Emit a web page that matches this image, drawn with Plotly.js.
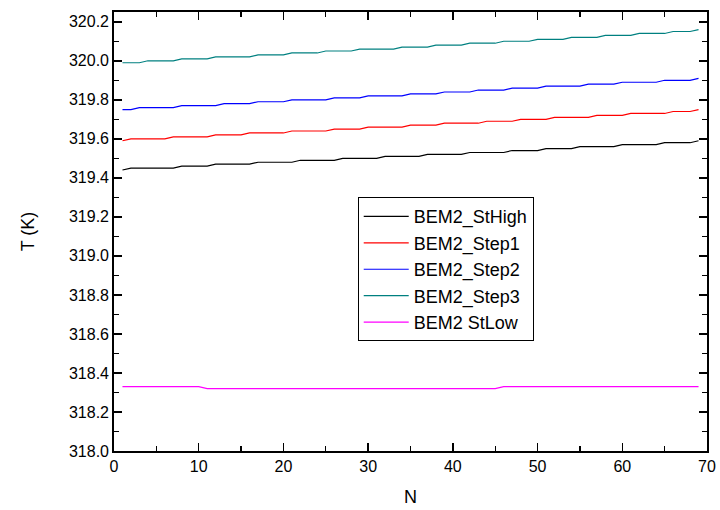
<!DOCTYPE html>
<html>
<head>
<meta charset="utf-8">
<script src="https://cdn.plot.ly/plotly-3.0.1.min.js"></script>
<style>html,body{margin:0;padding:0;background:#fff;}#chart{width:720px;height:510px;}</style>
</head>
<body>
<div id="chart"></div>
<script>
// Data
const seriesNames = ["BEM2_StHigh", "BEM2_Step1", "BEM2_Step2", "BEM2_Step3", "BEM2 StLow"];
const seriesColors = ["#000000", "#ff0000", "#0000ff", "#008080", "#ff00ff"];

// N values 1..69
const N = [1,2,3,4,5,6,7,8,9,10,11,12,13,14,15,16,17,18,19,20,21,22,23,24,25,26,27,28,29,30,
  31,32,33,34,35,36,37,38,39,40,41,42,43,44,45,46,47,48,49,50,51,52,53,54,55,56,57,58,59,60,
  61,62,63,64,65,66,67,68,69];

const stHigh = [319.44,
  319.45,319.45,319.45,319.45,319.45,319.45,
  319.46,319.46,319.46,319.46,
  319.47,319.47,319.47,319.47,319.47,
  319.48,319.48,319.48,319.48,319.48,
  319.49,319.49,319.49,319.49,319.49,
  319.50,319.50,319.50,319.50,319.50,
  319.51,319.51,319.51,319.51,319.51,
  319.52,319.52,319.52,319.52,319.52,
  319.53,319.53,319.53,319.53,319.53,
  319.54,319.54,319.54,319.54,
  319.55,319.55,319.55,319.55,
  319.56,319.56,319.56,319.56,319.56,
  319.57,319.57,319.57,319.57,319.57,
  319.58,319.58,319.58,319.58,
  319.59];

const step1 = [319.59,
  319.60,319.60,319.60,319.60,319.60,
  319.61,319.61,319.61,319.61,319.61,
  319.62,319.62,319.62,319.62,
  319.63,319.63,319.63,319.63,319.63,
  319.64,319.64,319.64,319.64,319.64,
  319.65,319.65,319.65,319.65,
  319.66,319.66,319.66,319.66,319.66,
  319.67,319.67,319.67,319.67,
  319.68,319.68,319.68,319.68,319.68,
  319.69,319.69,319.69,319.69,
  319.70,319.70,319.70,319.70,
  319.71,319.71,319.71,319.71,319.71,
  319.72,319.72,319.72,319.72,
  319.73,319.73,319.73,319.73,319.73,
  319.74,319.74,319.74,
  319.75];

const step2 = [319.75,319.75,
  319.76,319.76,319.76,319.76,319.76,
  319.77,319.77,319.77,319.77,319.77,
  319.78,319.78,319.78,319.78,
  319.79,319.79,319.79,319.79,
  319.80,319.80,319.80,319.80,319.80,
  319.81,319.81,319.81,319.81,
  319.82,319.82,319.82,319.82,319.82,
  319.83,319.83,319.83,319.83,
  319.84,319.84,319.84,319.84,
  319.85,319.85,319.85,319.85,
  319.86,319.86,319.86,319.86,
  319.87,319.87,319.87,319.87,319.87,
  319.88,319.88,319.88,319.88,
  319.89,319.89,319.89,319.89,319.89,
  319.90,319.90,319.90,319.90,
  319.91];

const step3 = [319.99,319.99,319.99,
  320.00,320.00,320.00,320.00,
  320.01,320.01,320.01,320.01,
  320.02,320.02,320.02,320.02,320.02,
  320.03,320.03,320.03,320.03,
  320.04,320.04,320.04,320.04,
  320.05,320.05,320.05,320.05,
  320.06,320.06,320.06,320.06,320.06,
  320.07,320.07,320.07,320.07,
  320.08,320.08,320.08,320.08,
  320.09,320.09,320.09,320.09,
  320.10,320.10,320.10,320.10,
  320.11,320.11,320.11,320.11,
  320.12,320.12,320.12,320.12,
  320.13,320.13,320.13,320.13,
  320.14,320.14,320.14,320.14,
  320.15,320.15,320.15,
  320.16];

const stLow = [318.33,318.33,318.33,318.33,318.33,318.33,318.33,318.33,318.33,318.33,
  318.32,318.32,318.32,318.32,318.32,318.32,318.32,318.32,318.32,318.32,
  318.32,318.32,318.32,318.32,318.32,318.32,318.32,318.32,318.32,318.32,
  318.32,318.32,318.32,318.32,318.32,318.32,318.32,318.32,318.32,318.32,
  318.32,318.32,318.32,318.32,318.32,
  318.33,318.33,318.33,318.33,318.33,318.33,318.33,318.33,318.33,318.33,
  318.33,318.33,318.33,318.33,318.33,318.33,318.33,318.33,318.33,318.33,
  318.33,318.33,318.33,318.33];

const seriesValues = [stHigh, step1, step2, step3, stLow];

const traces = seriesValues.map((vals, i) => ({
  x: N, y: vals, type: 'scatter', mode: 'lines', name: seriesNames[i],
  line: {color: seriesColors[i], width: 1.2}
}));

const fontFam = 'Arial, "Liberation Sans", sans-serif';
const layout = {
  width: 720, height: 510,
  margin: {l: 114, r: 13, t: 12, b: 59},
  paper_bgcolor: '#fff', plot_bgcolor: '#fff',
  font: {family: fontFam, size: 16, color: '#000'},
  showlegend: true,
  legend: {
    x: 0.411, y: 0.578, xanchor: 'left', yanchor: 'top',
    bordercolor: '#000', borderwidth: 1, bgcolor: '#fff',
    font: {family: fontFam, size: 18, color: '#000'},
    itemwidth: 45,
    tracegroupgap: 0
  },
  xaxis: {
    range: [0, 70], dtick: 10, tick0: 0,
    showgrid: false, zeroline: false,
    showline: true, linecolor: '#000', linewidth: 1.8, mirror: 'allticks',
    ticks: 'inside', ticklen: 8, tickwidth: 1.5, tickcolor: '#000',
    minor: {dtick: 5, ticks: 'inside', ticklen: 5, tickwidth: 1.2, tickcolor: '#000', showgrid: false},
    tickfont: {family: fontFam, size: 16},
    title: {text: 'N', font: {family: fontFam, size: 18}, standoff: 16}
  },
  yaxis: {
    range: [318, 320.25], dtick: 0.2, tick0: 318, tickformat: '.1f',
    showgrid: false, zeroline: false,
    showline: true, linecolor: '#000', linewidth: 1.8, mirror: 'allticks',
    ticks: 'inside', ticklen: 8, tickwidth: 1.5, tickcolor: '#000',
    minor: {dtick: 0.1, ticks: 'inside', ticklen: 5, tickwidth: 1.2, tickcolor: '#000', showgrid: false},
    tickfont: {family: fontFam, size: 16},
    title: {text: 'T (K)', font: {family: fontFam, size: 18}, standoff: 30}
  }
};

Plotly.newPlot('chart', traces, layout, {staticPlot: true, displayModeBar: false});
</script>
</body>
</html>
